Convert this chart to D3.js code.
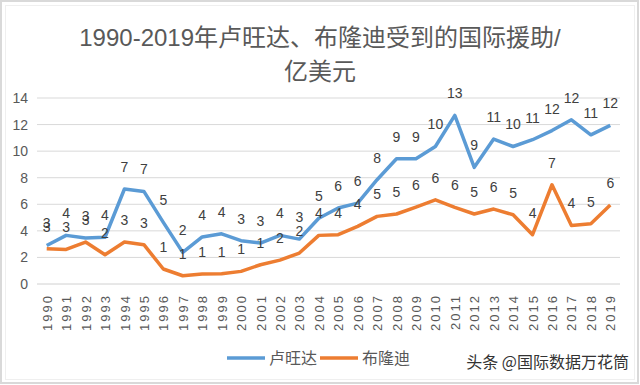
<!DOCTYPE html>
<html>
<head>
<meta charset="utf-8">
<script src="https://cdn.jsdelivr.net/npm/d3@7"></script>
<style>
  body { margin: 0; background: #fff; }
  text { font-family: "Liberation Sans", "Noto Sans CJK SC", sans-serif; }
</style>
</head>
<body>
<div id="chart"></div>
<script>
// data
var years = d3.range(1990, 2020).map(String);
var rwanda = [2.9, 3.66, 3.47, 3.52, 7.15, 6.97, 4.64, 2.38, 3.54, 3.78,
              3.26, 3.08, 3.66, 3.38, 4.95, 5.72, 6.09, 7.85, 9.43, 9.43,
              10.35, 12.69, 8.78, 10.91, 10.35, 10.86, 11.55, 12.36, 11.23, 11.94];
var burundi = [2.65, 2.6, 3.16, 2.2, 3.16, 2.96, 1.13, 0.62, 0.75, 0.77,
               0.95, 1.45, 1.8, 2.33, 3.66, 3.71, 4.34, 5.09, 5.27, 5.79,
               6.34, 5.77, 5.27, 5.64, 5.21, 3.71, 7.47, 4.41, 4.54, 5.94];
var yTicks = [0, 2, 4, 6, 8, 10, 12, 14];
var seriesNames = ['卢旺达', '布隆迪'];
var colors = ['#5B9BD5', '#ED7D31'];

var W = 640, H = 385;
var margin = { top: 98, right: 20, bottom: 101, left: 37 },
    width = W - margin.left - margin.right,
    height = H - margin.top - margin.bottom;

var svg = d3.select('#chart').append('svg')
  .attr('width', W)
  .attr('height', H);

// frame
svg.append('rect').attr('x', 1).attr('y', 1).attr('width', W - 3).attr('height', H - 3)
  .attr('fill', 'none').attr('stroke', '#d9d9d9').attr('stroke-width', 2);
svg.append('rect').attr('x', 5.5).attr('y', 5.5).attr('width', W - 11).attr('height', H - 11)
  .attr('fill', 'none').attr('stroke', '#efefef').attr('stroke-width', 1);

// title
var title = svg.append('text')
  .attr('text-anchor', 'middle')
  .attr('fill', '#595959')
  .style('font-size', '24px');
title.append('tspan').attr('x', 320).attr('y', 46).text('1990-2019年卢旺达、布隆迪受到的国际援助/');
title.append('tspan').attr('x', 320).attr('y', 80).text('亿美元');

var x = d3.scalePoint()
  .domain(years)
  .range([0, width])
  .padding(0.5);

var y = d3.scaleLinear()
  .domain([0, 14])
  .range([height, 0]);

var g = svg.append('g')
  .attr('transform', translate(margin.left, margin.top));

// gridlines
g.append('g').selectAll('line')
  .data(yTicks)
  .enter().append('line')
    .attr('x1', 0).attr('x2', width)
    .attr('y1', function(d){ return y(d); })
    .attr('y2', function(d){ return y(d); })
    .attr('stroke', function(d){ return d === 0 ? '#d0d0d0' : '#d9d9d9'; })
    .attr('stroke-width', 1);

// y axis
var yAxis = d3.axisLeft(y).tickValues(yTicks).tickSize(0).tickPadding(9);
g.append('g').call(yAxis)
  .call(function(s){ s.select('.domain').remove(); })
  .selectAll('text')
    .attr('fill', '#595959')
    .style('font-size', '14px');

// x axis
var xAxis = d3.axisBottom(x).tickSize(0);
g.append('g')
  .attr('transform', translate(0, height))
  .call(xAxis)
  .call(function(s){ s.select('.domain').remove(); })
  .selectAll('text')
    .attr('fill', '#595959')
    .style('font-size', '13px')
    .style('letter-spacing', '2px')
    .attr('transform', 'rotate(-90)')
    .attr('text-anchor', 'end')
    .attr('x', -10)
    .attr('y', 0)
    .attr('dy', '0.35em');

// lines
var line = d3.line()
  .x(function(d, i){ return x(years[i]); })
  .y(function(d){ return y(d); });

[rwanda, burundi].forEach(function(s, k){
  g.append('path')
    .datum(s)
    .attr('fill', 'none')
    .attr('stroke', colors[k])
    .attr('stroke-width', 3.5)
    .attr('stroke-linejoin', 'round')
    .attr('d', line);
});

// data labels
[rwanda, burundi].forEach(function(s){
  g.append('g').selectAll('text')
    .data(s)
    .enter().append('text')
      .attr('x', function(d, i){ return x(years[i]); })
      .attr('y', function(d){ return y(d) - 17; })
      .attr('text-anchor', 'middle')
      .attr('fill', '#404040')
      .style('font-size', '14px')
      .text(function(d){ return Math.round(d); });
});

// legend
var legendX = [227, 320];
seriesNames.forEach(function(name, k){
  var lg = svg.append('g').attr('transform', translate(legendX[k], 358));
  lg.append('line')
    .attr('x1', 0).attr('x2', 38)
    .attr('stroke', colors[k]).attr('stroke-width', 3.5);
  lg.append('text')
    .attr('x', 42).attr('y', 6)
    .attr('fill', '#595959')
    .style('font-size', '16px')
    .style('font-family', '"Noto Sans CJK SC", sans-serif')
    .text(name);
});

// watermark
svg.append('text')
  .attr('x', 629).attr('y', 368)
  .attr('text-anchor', 'end')
  .attr('fill', '#333')
  .style('font-size', '16px')
  .style('font-family', '"Noto Sans CJK SC", sans-serif')
  .text('头条 @国际数据万花筒');

function translate(x, y){
  return 'translate(' + x + ',' + y + ')';
}
</script>
</body>
</html>
